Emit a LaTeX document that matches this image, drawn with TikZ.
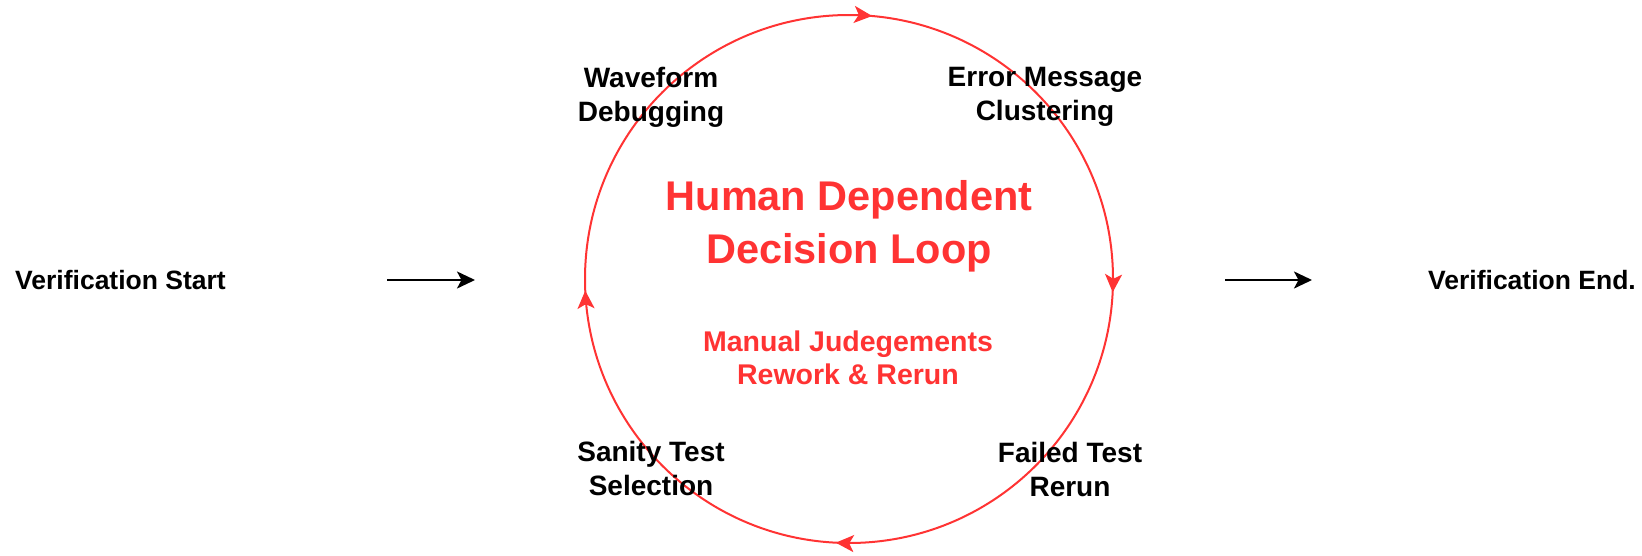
\documentclass[tikz,border=0pt]{standalone}
\usepackage{fontspec}
\setmainfont{Liberation Sans}
\usetikzlibrary{arrows.meta,decorations.markings}
\definecolor{loopred}{HTML}{FF3333}
\begin{document}
\begin{tikzpicture}[x=1pt,y=-1pt,
  lbl/.style={font=\bfseries\fontsize{28}{34}\selectfont, align=center, inner sep=0pt, text=black},
  endlbl/.style={font=\bfseries\fontsize{26.5}{32}\selectfont, inner sep=0pt, text=black},
  titlelbl/.style={font=\bfseries\fontsize{41.5}{53}\selectfont, align=center, inner sep=0pt, text=loopred},
  sublbl/.style={font=\bfseries\fontsize{28.5}{33}\selectfont, align=center, inner sep=0pt, text=loopred},
  loopline/.style={draw=loopred, line width=2pt},
  flowarrow/.style={draw=black, line width=2.2pt, -{Stealth[length=18pt,width=17pt,inset=4.5pt]}}
]
\useasboundingbox (0,0) rectangle (1642,555);

% loop circle, drawn clockwise from the left
\coordinate (c) at (849,279);
\draw[loopline, postaction={decorate},
  decoration={markings,
    mark=at position 0.264 with {\arrow[loopred]{Stealth[length=18pt,width=17pt,inset=4.5pt]}},
    mark=at position 0.508 with {\arrow[loopred]{Stealth[length=18pt,width=17pt,inset=4.5pt]}},
    mark=at position 0.758 with {\arrow[loopred]{Stealth[length=18pt,width=17pt,inset=4.5pt]}},
    mark=at position 0.993 with {\arrow[loopred]{Stealth[length=18pt,width=17pt,inset=4.5pt]}}}]
  (c) ++(-180:264) arc[start angle=-180, end angle=180, radius=264];

% texts
\node[endlbl, anchor=west] (start) at (15,280) {Verification Start};
\node[endlbl, anchor=east] (end) at (1636,280) {Verification End.};

\node[titlelbl] (title) at (849,226) {Human Dependent\\Decision Loop};
\node[sublbl] (sub) at (848,358) {Manual Judegements\\Rework \& Rerun};

\node[lbl] (wave) at (651,97) {Waveform\\Debugging};
\node[lbl] (err) at (1045,97) {Error Message\\Clustering};
\node[lbl] (sanity) at (651,468) {Sanity Test\\Selection};
\node[lbl] (failed) at (1070,469) {Failed Test\\Rerun};

% flow arrows
\coordinate (a1) at (387,280);
\coordinate (a2) at (475,280);
\coordinate (b1) at (1225,280);
\coordinate (b2) at (1312,280);
\draw[flowarrow] (a1) -- (a2);
\draw[flowarrow] (b1) -- (b2);
\end{tikzpicture}
\end{document}
